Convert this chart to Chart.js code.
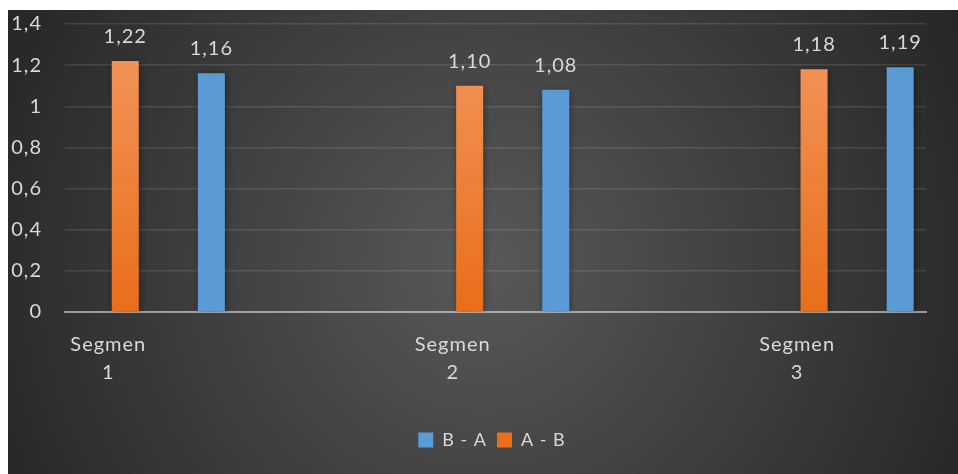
<!DOCTYPE html>
<html>
<head>
<meta charset="utf-8">
<script src="https://cdn.jsdelivr.net/npm/chart.js@4/dist/chart.umd.min.js"></script>
<style>
  html, body { margin: 0; padding: 0; background: #fff; }
  #wrap {
    position: absolute; left: 8px; top: 10px; width: 950px; height: 464px;
    background: radial-gradient(circle farthest-corner at 50% 55%, #595959 0%, #262626 100%);
  }
  canvas { display: block; }
</style>
</head>
<body>
<div id="wrap"><canvas id="chart" width="950" height="464"></canvas></div>
<script>
// ── Data ──────────────────────────────────────────────────────────────
const segments = ['Segmen 1', 'Segmen 2', 'Segmen 3'];
const aMinusB = [1.22, 1.10, 1.18];
const bMinusA = [1.16, 1.08, 1.19];
const yTicks = [0, 0.2, 0.4, 0.6, 0.8, 1, 1.2, 1.4];

const FONT = 'Lato, "Open Sans", sans-serif';
const TEXT = '#d9d9d9';

const toPoints = vals => vals.map((v, i) => ({ x: i, y: v }));
const comma = (v, d) => v.toFixed(d).replace('.', ',');

// orange bars fade from light at the top to deeper orange at the base
function orangeFill(c) {
  const area = c.chart.chartArea;
  if (!area) return '#ED7D31';
  const g = c.chart.ctx.createLinearGradient(0, area.top, 0, area.bottom);
  g.addColorStop(0, '#F4975F');
  g.addColorStop(1, '#E86E1A');
  return g;
}

// ── Plugins ───────────────────────────────────────────────────────────
const spacing = {
  id: 'spacing',
  beforeInit(chart) { chart.ctx.letterSpacing = '1px'; },
  beforeDraw(chart) { chart.ctx.letterSpacing = '1px'; },
  // the legend sits a little right of the canvas centre in the original
  afterLayout(chart) {
    if (chart.legend) { chart.legend.left += 20; chart.legend.right += 20; }
  }
};

const barShadow = {
  id: 'barShadow',
  beforeDatasetsDraw(chart) {
    const ctx = chart.ctx;
    ctx.save();
    ctx.shadowColor = 'rgba(0,0,0,0.45)';
    ctx.shadowBlur = 7;
    ctx.shadowOffsetX = 1;
    ctx.shadowOffsetY = 1;
  },
  afterDatasetsDraw(chart) { chart.ctx.restore(); }
};

const valueLabels = {
  id: 'valueLabels',
  afterDatasetsDraw(chart) {
    const ctx = chart.ctx;
    ctx.save();
    ctx.font = '20px ' + FONT;
    ctx.fillStyle = TEXT;
    ctx.textAlign = 'center';
    ctx.textBaseline = 'alphabetic';
    chart.data.datasets.forEach((ds, di) => {
      chart.getDatasetMeta(di).data.forEach((bar, i) => {
        ctx.fillText(comma(ds.data[i].y, 2), bar.x, bar.y - 18);
      });
    });
    ctx.restore();
  }
};

// ── Chart ─────────────────────────────────────────────────────────────
new Chart(document.getElementById('chart'), {
  type: 'bar',
  data: {
    datasets: [
      { label: 'A - B', data: toPoints(aMinusB), backgroundColor: orangeFill },
      { label: 'B - A', data: toPoints(bMinusA), backgroundColor: '#5B9BD5' }
    ]
  },
  options: {
    responsive: false,
    animation: false,
    categoryPercentage: 0.5,
    barPercentage: 0.314,
    layout: { padding: { top: 14, left: 0, right: 32, bottom: 15 } },
    plugins: {
      tooltip: { enabled: false },
      legend: {
        position: 'bottom',
        reverse: true,
        labels: {
          color: TEXT,
          font: { family: FONT, size: 18 },
          boxWidth: 15,
          boxHeight: 15,
          padding: 10
        }
      }
    },
    scales: {
      x: {
        type: 'linear',
        offset: false,
        min: -0.3,
        max: 2.2,
        z: 1,
        grid: { display: false, drawTicks: false },
        border: { display: true, color: 'rgba(215,215,215,0.6)', width: 2 },
        afterBuildTicks: s => { s.ticks = segments.map((_, i) => ({ value: i })); },
        afterFit: s => { s.height = 109; s.paddingLeft = 0; s.paddingRight = 0; },
        ticks: {
          color: TEXT,
          font: { family: FONT, size: 20, lineHeight: 1.4 },
          padding: 19,
          labelOffset: -60,
          maxRotation: 0,
          autoSkip: false,
          callback: v => segments[v].split(' ')
        }
      },
      y: {
        min: 0,
        max: 1.4,
        afterBuildTicks: s => { s.ticks = yTicks.map(v => ({ value: v })); },
        afterFit: s => { s.width = 57; s.paddingTop = 0; s.paddingBottom = 0; },
        grid: { color: 'rgba(255,255,255,0.11)', lineWidth: 1.5, drawTicks: false },
        border: { display: false },
        ticks: {
          color: TEXT,
          font: { family: FONT, size: 20 },
          padding: 23,
          callback: v => comma(v, 1).replace(/,0$/, '')
        }
      }
    }
  },
  plugins: [spacing, barShadow, valueLabels]
});
</script>
</body>
</html>
